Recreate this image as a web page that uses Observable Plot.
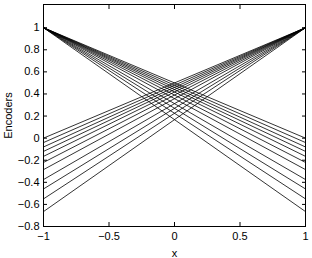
<!DOCTYPE html>
<html><head><meta charset="utf-8">
<script src="https://cdn.jsdelivr.net/npm/d3@7"></script>
<script src="https://cdn.jsdelivr.net/npm/@observablehq/plot@0.6"></script>
<style>body{margin:0;background:#fff}</style>
</head><body><div id="chart"></div>
<script>
// end values of the lines (at the opposite edge from the common start point)
const endValues = [0, -0.04, -0.08, -0.12, -0.165, -0.22, -0.285, -0.375, -0.46, -0.55, -0.665];
const startValue = 1;
const xLeft = -1, xRight = 1;
const xTicks = [-1, -0.5, 0, 0.5, 1];
const xTickLabels = ["−1", "−0.5", "0", "0.5", "1"];
const yTicks = [-0.8, -0.6, -0.4, -0.2, 0, 0.2, 0.4, 0.6, 0.8, 1];
const yTickLabels = ["−0.8", "−0.6", "−0.4", "−0.2", "0", "0.2", "0.4", "0.6", "0.8", "1"];

const lines = [
  ...endValues.map(v => ({x1: xLeft, y1: startValue, x2: xRight, y2: v})),
  ...endValues.map(v => ({x1: xRight, y1: startValue, x2: xLeft, y2: v}))
];
const fmt = (ticks, labels) => d => labels[ticks.findIndex(t => Math.abs(t - d) < 1e-9)];

const chart = Plot.plot({
  width: 312, height: 258,
  marginLeft: 43, marginRight: 7, marginTop: 4, marginBottom: 32,
  style: {fontFamily: "Liberation Sans, Arial, sans-serif", fontSize: "11px", color: "black", background: "white"},
  x: {domain: [-1, 1]},
  y: {domain: [-0.8, 1.21]},
  marks: [
    Plot.link(lines, {x1: "x1", y1: "y1", x2: "x2", y2: "y2", stroke: "black", strokeWidth: 0.8}),
    Plot.axisX(xTicks, {anchor: "bottom", tickSize: -4, tickPadding: 10, tickFormat: fmt(xTicks, xTickLabels), label: "x", labelAnchor: "center", labelArrow: "none", labelOffset: 30, fontSize: 11}),
    Plot.axisX(xTicks, {anchor: "top", tickSize: -4, stroke: "black", fill: "none", label: null}),
    Plot.axisY(yTicks, {anchor: "left", tickSize: -4, tickPadding: 8, tickFormat: fmt(yTicks, yTickLabels), label: "Encoders", labelAnchor: "center", labelArrow: "none", labelOffset: 39, fontSize: 11}),
    Plot.axisY(yTicks, {anchor: "right", tickSize: -4, stroke: "black", fill: "none", label: null}),
    Plot.frame({stroke: "black", strokeWidth: 1})
  ]
});
document.getElementById("chart").append(chart);
</script></body></html>
